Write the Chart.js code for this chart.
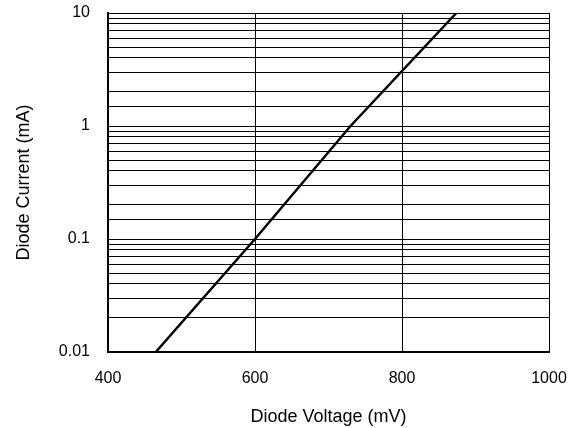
<!DOCTYPE html>
<html lang="en">
<head>
  <meta charset="UTF-8">
  <title>Diode Current vs Voltage</title>
  <script src="https://cdn.jsdelivr.net/npm/chart.js"></script>
  <style>
    html, body { margin: 0; padding: 0; background: #fff; }
    .chart-container { width: 583px; height: 428px; }
  </style>
</head>
<body>
  <div class="chart-container">
    <canvas id="diodeChart"></canvas>
  </div>

  <script>
    // values
    const voltageMv = [465, 600, 730, 874];
    const currentMa = [0.01, 0.1, 1, 10];
    const xTicks = [400, 600, 800, 1000];
    const yTickLabels = [0.01, 0.1, 1, 10];

    const fontFamily = '"Liberation Sans", Arial, sans-serif';

    const ctx = document.getElementById('diodeChart').getContext('2d');
    new Chart(ctx, {
      type: 'line',
      data: {
        datasets: [{
          data: voltageMv.map((v, i) => ({ x: v, y: currentMa[i] })),
          borderColor: '#000',
          borderWidth: 2.5,
          pointRadius: 0,
          fill: false,
          tension: 0
        }]
      },
      options: {
        responsive: true,
        maintainAspectRatio: false,
        animation: false,
        layout: { padding: { left: 0, right: 34, top: 13, bottom: 0 } },
        plugins: {
          legend: { display: false },
          tooltip: { enabled: false }
        },
        scales: {
          x: {
            type: 'linear',
            min: 400,
            max: 1000,
            afterBuildTicks: scale => {
              scale.ticks = xTicks.map(v => ({ value: v }));
            },
            afterFit: scale => {
              scale.height = 76;
              scale.paddingLeft = 0;
              scale.paddingRight = 0;
            },
            grid: { color: '#000', lineWidth: 1, drawTicks: false },
            border: { color: '#000', width: 2 },
            ticks: {
              color: '#000',
              padding: 17,
              font: { family: fontFamily, size: 16 },
              callback: value => String(value)
            },
            title: {
              display: true,
              text: 'Diode Voltage (mV)',
              color: '#000',
              padding: { top: 12, bottom: 0 },
              font: { family: fontFamily, size: 18 }
            }
          },
          y: {
            type: 'logarithmic',
            min: 0.01,
            max: 10,
            afterFit: scale => {
              scale.width = 108;
              scale.paddingTop = 0;
              scale.paddingBottom = 0;
            },
            grid: { color: '#000', lineWidth: 1, drawTicks: false },
            border: { color: '#000', width: 2 },
            ticks: {
              color: '#000',
              padding: 18,
              autoSkip: false,
              font: { family: fontFamily, size: 16 },
              callback: value => yTickLabels.some(t => Math.abs(t - value) < t * 1e-6) ? String(value) : ''
            },
            title: {
              display: true,
              text: 'Diode Current (mA)',
              color: '#000',
              padding: { top: 13, bottom: 0 },
              font: { family: fontFamily, size: 18 }
            }
          }
        }
      }
    });
  </script>
</body>
</html>
